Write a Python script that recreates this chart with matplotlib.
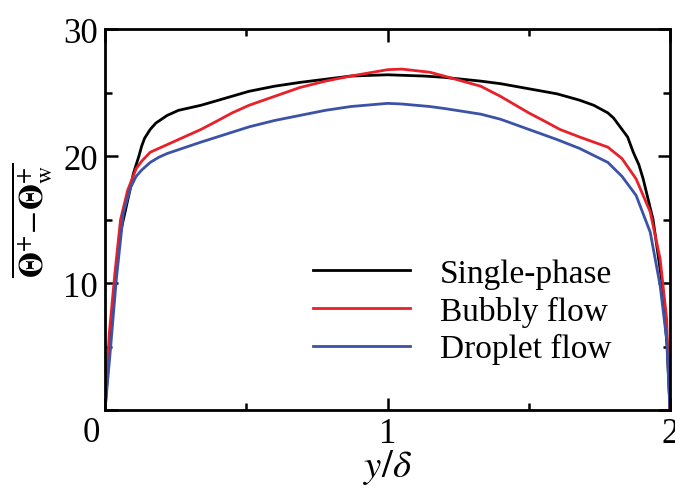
import numpy as np
import matplotlib
matplotlib.use('Agg')
import matplotlib.pyplot as plt
from matplotlib.ticker import MultipleLocator

plt.rcParams['font.family'] = ['Liberation Serif', 'DejaVu Serif']
plt.rcParams['mathtext.fontset'] = 'stix'

# 单相流
x_single = [0, 0.02, 0.05, 0.09, 0.10, 0.12, 0.13, 0.14, 0.16, 0.18, 0.22, 0.26, 0.34,
            0.51, 0.6, 0.69, 0.78, 0.87, 1.0, 1.13, 1.2, 1.33, 1.4, 1.50, 1.6, 1.68,
            1.73, 1.78, 1.80, 1.82, 1.85, 1.87, 1.89, 1.905, 1.94, 1.97, 1.99, 2.0]
y_single = [0, 6.5, 13.5, 17.5, 18.6, 20.0, 20.8, 21.4, 22.1, 22.6, 23.2, 23.6, 24.0,
            25.1, 25.5, 25.8, 26.05, 26.3, 26.4, 26.3, 26.2, 25.9, 25.7, 25.3, 24.9, 24.4,
            24.0, 23.4, 23.0, 22.4, 21.5, 20.3, 19.3, 18.2, 15.0, 10.3, 5.0, 0]

# 气泡流
x_bubbly = [0, 0.015, 0.035, 0.055, 0.08, 0.11, 0.13, 0.16, 0.19, 0.22, 0.34, 0.40,
            0.45, 0.51, 0.6, 0.69, 0.78, 0.87, 1.0, 1.05, 1.15, 1.2, 1.33, 1.4, 1.50,
            1.56, 1.61, 1.68, 1.78, 1.83, 1.88, 1.93, 1.965, 1.988, 2.0]
y_bubbly = [0, 6, 10.8, 15.0, 17.3, 19.0, 19.6, 20.3, 20.6, 20.9, 22.1, 22.8,
            23.4, 24.0, 24.7, 25.4, 25.9, 26.3, 26.8, 26.85, 26.6, 26.3, 25.5, 24.7, 23.4,
            22.7, 22.1, 21.5, 20.7, 19.8, 18.2, 15.6, 11.9, 7.2, 0]

# 液滴流
x_droplet = [0, 0.02, 0.04, 0.065, 0.09, 0.11, 0.13, 0.16, 0.19, 0.22, 0.34, 0.51,
             0.6, 0.69, 0.78, 0.87, 1.0, 1.05, 1.15, 1.2, 1.33, 1.4, 1.50, 1.6, 1.68,
             1.78, 1.83, 1.88, 1.93, 1.965, 1.988, 2.0]
y_droplet = [0, 5, 10.3, 15.5, 17.5, 18.4, 18.9, 19.5, 19.9, 20.2, 21.1, 22.3,
             22.8, 23.2, 23.6, 23.9, 24.15, 24.1, 23.9, 23.75, 23.3, 22.9, 22.1, 21.3, 20.6,
             19.5, 18.4, 16.9, 14.0, 9.8, 5.6, 0]

labels = ['Single-phase', 'Bubbly flow', 'Droplet flow']
colors = ['black', '#e8202a', '#3b52a6']

fig = plt.figure(figsize=(6.75, 4.89), dpi=100)
ax = fig.add_axes([0.1556, 0.1595, 0.837, 0.779])

ax.plot(x_single, y_single, color=colors[0], lw=2, label=labels[0])
ax.plot(x_bubbly, y_bubbly, color=colors[1], lw=2, label=labels[1])
ax.plot(x_droplet, y_droplet, color=colors[2], lw=2, label=labels[2])

ax.set_xlim(0, 2)
ax.set_ylim(0, 30)
ax.xaxis.set_minor_locator(MultipleLocator(0.5))
ax.yaxis.set_minor_locator(MultipleLocator(5))
ax.set_xticks([0, 1, 2])
ax.set_xticklabels(['', '1', '2'])
ax.set_yticks([0, 10, 20, 30])
ax.set_yticklabels(['', '10', '20', '30'])
ax.tick_params(which='both', direction='in', top=True, right=True,
               labelsize=25, width=1.8, pad=5)
ax.tick_params(which='major', length=9)
ax.tick_params(which='minor', length=5)
for s in ax.spines.values():
    s.set_linewidth(2)

# 左下角共用的 0
ax.text(-0.05, -0.5, '0', fontsize=25, ha='center', va='top')

ax.set_xlabel(r'$y/\delta$', fontsize=28, labelpad=-2)
ax.set_ylabel(r'$\overline{\mathbf{\Theta}^{+}\!-\!\mathbf{\Theta}^{+}_{\mathrm{w}}}$',
              fontsize=24, labelpad=6)

ax.legend(loc='lower right', bbox_to_anchor=(0.897, 0.12), frameon=False,
          fontsize=24, handlelength=2.9, handletextpad=0.9, labelspacing=0.2,
          borderpad=0, borderaxespad=0)

plt.savefig('out.png', dpi=100)
